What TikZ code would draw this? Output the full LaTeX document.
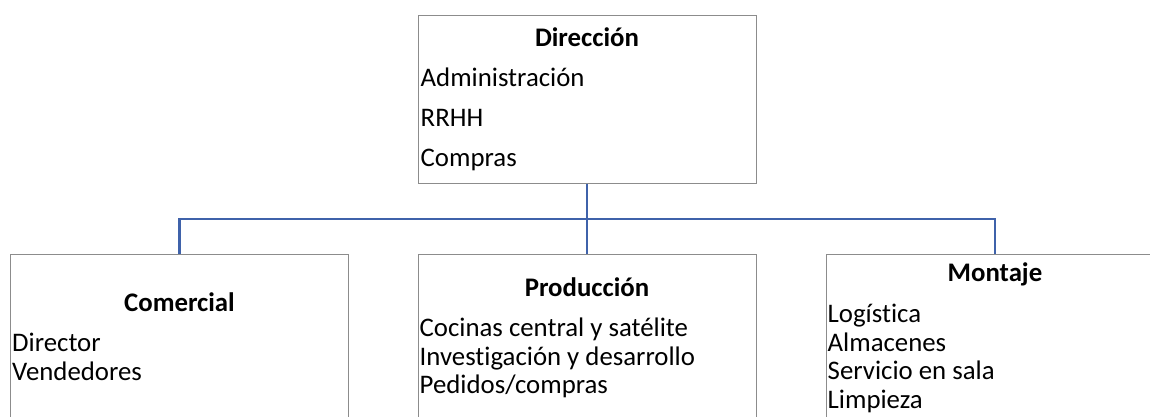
\documentclass[tikz,border=0pt]{standalone}
\usepackage{fontspec}
\setmainfont[Ligatures={NoCommon}]{Carlito}
\usetikzlibrary{positioning}
\definecolor{linkblue}{RGB}{63,98,170}
\definecolor{boxgray}{RGB}{140,140,140}

\begin{document}
\begin{tikzpicture}[
        x=1pt, y=-1pt,
        every node/.style={font=\fontsize{26.8}{30}\selectfont, inner sep=0pt},
        unit/.style={draw=boxgray, line width=1pt, rectangle, minimum width=338pt, minimum height=200pt},
        head/.style={font=\fontsize{26.8}{30}\selectfont\bfseries, anchor=base},
        item/.style={anchor=base west},
        link/.style={draw=linkblue, line width=2.6pt}
    ]
    \useasboundingbox (0,0) rectangle (1150,416);
    \clip (0,0) rectangle (1150,416);

    \node[unit, minimum height=168pt] (direccion) at (587,99) {};
    \node[unit] (comercial) at (179.5,354) {};
    \node[unit] (produccion) at (587,354) {};
    \node[unit] (montaje) at (995,354) {};

    \node[head] (h-dir) at ([yshift=-32pt]direccion.north) {Dirección};
    \foreach \t [count=\i] in {Administración, RRHH, Compras}
        \node[item] (dir-\i) at ([xshift=3pt, yshift={-72pt-(\i-1)*40pt}]direccion.north west) {\t};

    \node[head] (h-com) at ([yshift=-58pt]comercial.north) {Comercial};
    \foreach \t [count=\i] in {Director, Vendedores}
        \node[item] (com-\i) at ([xshift=2pt, yshift={-98pt-(\i-1)*28.7pt}]comercial.north west) {\t};

    \node[head] (h-prod) at ([yshift=-43pt]produccion.north) {Producción};
    \foreach \t [count=\i] in {Cocinas central y satélite, Investigación y desarrollo, Pedidos/compras}
        \node[item] (prod-\i) at ([xshift=2pt, yshift={-83pt-(\i-1)*28.7pt}]produccion.north west) {\t};

    \node[head] (h-mon) at ([yshift=-28pt]montaje.north) {Montaje};
    \foreach \t [count=\i] in {Logística, Almacenes, Servicio en sala, Limpieza}
        \node[item] (mon-\i) at ([xshift=2pt, yshift={-69pt-(\i-1)*28.7pt}]montaje.north west) {\t};

    \coordinate (bus) at (587,219);
    \draw[link] (direccion.south) -- (produccion.north);
    \draw[link] (comercial.north) |- (bus) -| (montaje.north);

\end{tikzpicture}
\end{document}
